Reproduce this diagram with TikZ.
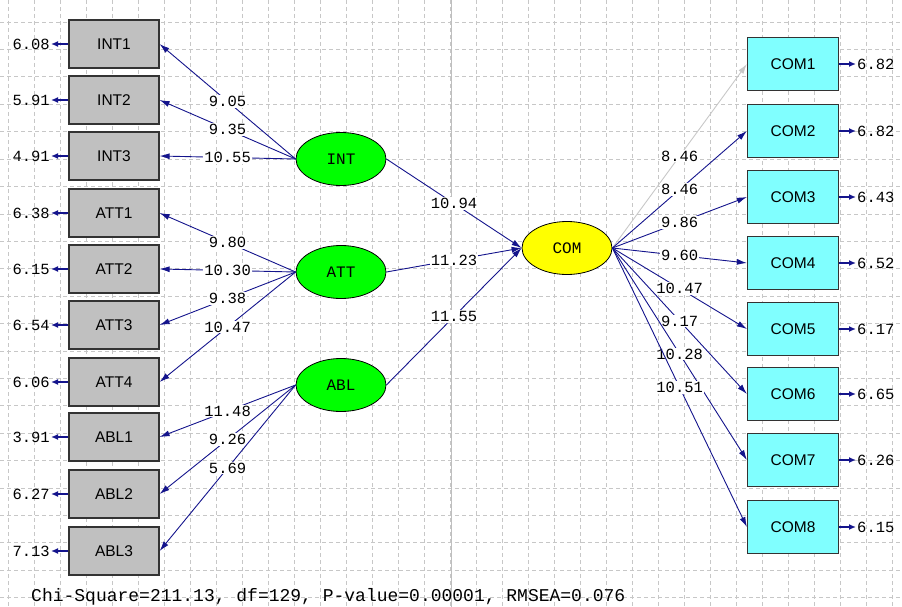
\documentclass[tikz,border=0pt]{standalone}
\usepackage{fontspec}
\setmainfont{Liberation Sans}
\newfontfamily\lisrelmono{Liberation Mono}
\usetikzlibrary{arrows.meta,shapes.geometric}
\definecolor{pathblue}{RGB}{20,20,140}
\definecolor{boxgrey}{RGB}{192,192,192}
\definecolor{boxcyan}{RGB}{128,255,255}
\definecolor{latgreen}{RGB}{0,255,0}
\definecolor{latyellow}{RGB}{255,255,0}
\definecolor{fixedgrey}{RGB}{200,200,200}

\begin{document}
\begin{tikzpicture}[x=1pt,y=-1pt,
    obsx/.style={draw=black!80,fill=boxgrey,line width=1.2pt,minimum width=90pt,minimum height=48pt,inner sep=0pt,font=\fontsize{15.5}{15.5}\selectfont},
    obsy/.style={obsx,fill=boxcyan,minimum width=91pt,minimum height=53pt},
    latent/.style={ellipse,draw=black,line width=0.8pt,minimum width=90pt,minimum height=53pt,inner sep=0pt,font=\lisrelmono\fontsize{16}{16}\selectfont},
    errx/.style={anchor=east,inner sep=1pt,font=\lisrelmono\fontsize{15.5}{15.5}\selectfont},
    erry/.style={errx,anchor=west},
    est/.style={midway,fill=white,inner sep=1pt,font=\lisrelmono\fontsize{15.5}{15.5}\selectfont},
    load/.style={draw=pathblue,line width=0.9pt,-{Latex[length=10pt,width=6pt]}},
    errarr/.style={draw=pathblue,line width=1.6pt,-{Latex[length=7pt,width=6pt]}},
    gridline/.style={draw=black!22,line width=0.6pt,dash pattern=on 4pt off 3pt}]
  \useasboundingbox (0,0) rectangle (902,607);
  % background grid
  \foreach \gx in {0,...,34} \draw[gridline] (8+26*\gx,0) -- (8+26*\gx,607);
  \foreach \gy in {0,...,21} \draw[gridline] (0,22+27.4*\gy) -- (902,22+27.4*\gy);
  \draw[black!25,line width=1pt] (451,0) -- (451,607);

  % observed x-variables
  \node[obsx] (INT1) at (114,44) {INT1};
  \node[obsx] (INT2) at (114,100) {INT2};
  \node[obsx] (INT3) at (114,156) {INT3};
  \node[obsx] (ATT1) at (114,213) {ATT1};
  \node[obsx] (ATT2) at (114,269) {ATT2};
  \node[obsx] (ATT3) at (114,325) {ATT3};
  \node[obsx] (ATT4) at (114,382) {ATT4};
  \node[obsx] (ABL1) at (114,437) {ABL1};
  \node[obsx] (ABL2) at (114,494) {ABL2};
  \node[obsx] (ABL3) at (114,551) {ABL3};

  % observed y-variables
  \node[obsy] (COM1) at (793,64) {COM1};
  \node[obsy] (COM2) at (793,131) {COM2};
  \node[obsy] (COM3) at (793,197) {COM3};
  \node[obsy] (COM4) at (793,263) {COM4};
  \node[obsy] (COM5) at (793,329) {COM5};
  \node[obsy] (COM6) at (793,394) {COM6};
  \node[obsy] (COM7) at (793,460) {COM7};
  \node[obsy] (COM8) at (793,527) {COM8};

  % latent variables
  \node[latent,fill=latgreen] (INT) at (341,159) {INT};
  \node[latent,fill=latgreen] (ATT) at (341,272) {ATT};
  \node[latent,fill=latgreen] (ABL) at (341,385) {ABL};
  \node[latent,fill=latyellow] (COM) at (567,248) {COM};

  % error terms
  \node[errx] (eI1) at (51,44) {6.08};
  \node[errx] (eI2) at (51,100) {5.91};
  \node[errx] (eI3) at (51,156) {4.91};
  \node[errx] (eA1) at (51,213) {6.38};
  \node[errx] (eA2) at (51,269) {6.15};
  \node[errx] (eA3) at (51,325) {6.54};
  \node[errx] (eA4) at (51,382) {6.06};
  \node[errx] (eB1) at (51,437) {3.91};
  \node[errx] (eB2) at (51,494) {6.27};
  \node[errx] (eB3) at (51,551) {7.13};
  \node[erry] (eC1) at (856,64) {6.82};
  \node[erry] (eC2) at (856,131) {6.82};
  \node[erry] (eC3) at (856,197) {6.43};
  \node[erry] (eC4) at (856,263) {6.52};
  \node[erry] (eC5) at (856,329) {6.17};
  \node[erry] (eC6) at (856,394) {6.65};
  \node[erry] (eC7) at (856,460) {6.26};
  \node[erry] (eC8) at (856,527) {6.15};

  \draw[errarr] (INT1.west) -- (eI1.east);
  \draw[errarr] (INT2.west) -- (eI2.east);
  \draw[errarr] (INT3.west) -- (eI3.east);
  \draw[errarr] (ATT1.west) -- (eA1.east);
  \draw[errarr] (ATT2.west) -- (eA2.east);
  \draw[errarr] (ATT3.west) -- (eA3.east);
  \draw[errarr] (ATT4.west) -- (eA4.east);
  \draw[errarr] (ABL1.west) -- (eB1.east);
  \draw[errarr] (ABL2.west) -- (eB2.east);
  \draw[errarr] (ABL3.west) -- (eB3.east);
  \draw[errarr] (COM1.east) -- (eC1.west);
  \draw[errarr] (COM2.east) -- (eC2.west);
  \draw[errarr] (COM3.east) -- (eC3.west);
  \draw[errarr] (COM4.east) -- (eC4.west);
  \draw[errarr] (COM5.east) -- (eC5.west);
  \draw[errarr] (COM6.east) -- (eC6.west);
  \draw[errarr] (COM7.east) -- (eC7.west);
  \draw[errarr] (COM8.east) -- (eC8.west);

  % loadings of the exogenous constructs
  \draw[load] (INT.west) -- node[est] {9.05} (INT1.east);
  \draw[load] (INT.west) -- node[est] {9.35} (INT2.east);
  \draw[load] (INT.west) -- node[est] {10.55} (INT3.east);
  \draw[load] (ATT.west) -- node[est] {9.80} (ATT1.east);
  \draw[load] (ATT.west) -- node[est] {10.30} (ATT2.east);
  \draw[load] (ATT.west) -- node[est] {9.38} (ATT3.east);
  \draw[load] (ATT.west) -- node[est] {10.47} (ATT4.east);
  \draw[load] (ABL.west) -- node[est] {11.48} (ABL1.east);
  \draw[load] (ABL.west) -- node[est] {9.26} (ABL2.east);
  \draw[load] (ABL.west) -- node[est] {5.69} (ABL3.east);

  % structural paths
  \draw[load] (INT.east) -- node[est] {10.94} (COM.west);
  \draw[load] (ATT.east) -- node[est] {11.23} (COM.west);
  \draw[load] (ABL.east) -- node[est] {11.55} (COM.west);

  % loadings of COM
  \draw[load,draw=fixedgrey] (COM.east) -- node[est] {8.46} (COM1.west);
  \draw[load] (COM.east) -- node[est] {8.46} (COM2.west);
  \draw[load] (COM.east) -- node[est] {9.86} (COM3.west);
  \draw[load] (COM.east) -- node[est] {9.60} (COM4.west);
  \draw[load] (COM.east) -- node[est] {10.47} (COM5.west);
  \draw[load] (COM.east) -- node[est] {9.17} (COM6.west);
  \draw[load] (COM.east) -- node[est] {10.28} (COM7.west);
  \draw[load] (COM.east) -- node[est] {10.51} (COM8.west);

  \node[anchor=west,inner sep=0pt,font=\lisrelmono\fontsize{18}{18}\selectfont] (fitline) at (31,597) {Chi-Square=211.13, df=129, P-value=0.00001, RMSEA=0.076};
\end{tikzpicture}
\end{document}
